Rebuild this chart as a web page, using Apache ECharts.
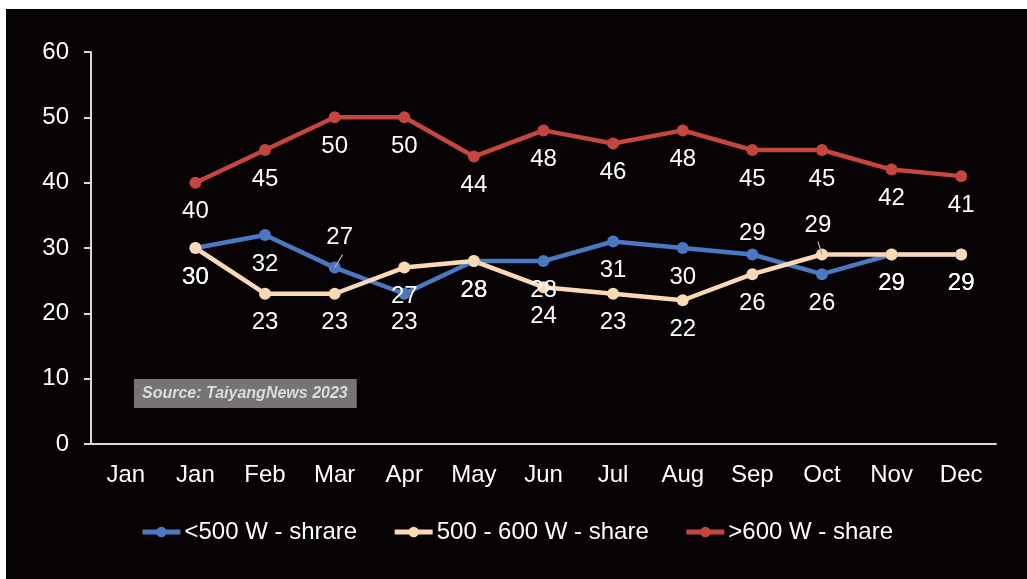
<!DOCTYPE html>
<html>
<head>
<meta charset="utf-8">
<script src="https://cdn.jsdelivr.net/npm/echarts@6/dist/echarts.min.js"></script>
<style>
  html, body { margin: 0; padding: 0; background: #ffffff; width: 1027px; height: 579px; overflow: hidden; }
  #chart { position: absolute; left: 6px; top: 9px; width: 1021px; height: 570px; background: #070203; }
</style>
</head>
<body>
<div id="chart"></div>
<script>
// Month categories (the leading "Jan" slot carries no data)
const months = ['Jan', 'Jan', 'Feb', 'Mar', 'Apr', 'May', 'Jun', 'Jul', 'Aug', 'Sep', 'Oct', 'Nov', 'Dec'];

// Module power class shares, %
const shareBelow500 = [null, 30, 32, 27, 23, 28, 28, 31, 30, 29, 26, 29, 29];
const share500to600 = [null, 30, 23, 23, 27, 28, 24, 23, 22, 26, 29, 29, 29];
const shareAbove600 = [null, 40, 45, 50, 50, 44, 48, 46, 48, 45, 45, 42, 41];

const seriesNames = ['<500 W - shrare', '500 - 600 W - share', '>600 W - share'];
const yTicks = [0, 10, 20, 30, 40, 50, 60];

const FONT = '"Liberation Sans", Arial, sans-serif';
const FS = 24;

// labels that sit above their point instead of below
// (series index -> data index -> placement; leader = short guide line to the point)
const aboveLabels = {
  0: { 3: { distance: 12, offset: [5, 0], leader: [[8, -13], [0, 0]] }, 9: { distance: 3 } },
  1: { 10: { distance: 11, offset: [-4, 0], leader: [[-4, -13], [0, 0]] } }
};

function buildData(values, seriesIdx) {
  return values.map((v, i) => {
    const over = (aboveLabels[seriesIdx] || {})[i];
    if (v == null || !over) return v;
    return {
      value: v,
      label: { position: 'top', distance: over.distance, offset: over.offset || [0, 0] }
    };
  });
}

const colors = ['#4a78c2', '#fcd9b5', '#c5463f'];
const valueSets = [shareBelow500, share500to600, shareAbove600];

const chart = echarts.init(document.getElementById('chart'), null, { renderer: 'canvas' });

const option = {
  backgroundColor: '#070203',
  animation: false,
  textStyle: { fontFamily: FONT },
  grid: { left: 85, right: 31, top: 43, bottom: 135, containLabel: false },
  legend: {
    bottom: 30,
    left: 'center',
    itemWidth: 38,
    itemHeight: 13,
    itemGap: 35,
    data: seriesNames,
    lineStyle: { width: 5 },
    textStyle: { color: '#ffffff', fontSize: FS, fontFamily: FONT, padding: [0, 0, 0, -1] }
  },
  xAxis: {
    type: 'category',
    data: months,
    boundaryGap: true,
    axisLine: { lineStyle: { color: '#d9d9d9', width: 2 } },
    axisTick: { show: false },
    axisLabel: { color: '#ffffff', fontSize: FS, margin: 19, fontFamily: FONT, interval: 0 },
    splitLine: { show: false }
  },
  yAxis: {
    type: 'value',
    min: yTicks[0],
    max: yTicks[yTicks.length - 1],
    interval: yTicks[1] - yTicks[0],
    axisLine: { show: true, lineStyle: { color: '#d9d9d9', width: 2 } },
    axisTick: { show: true, length: 7, lineStyle: { color: '#d9d9d9', width: 2 } },
    axisLabel: { color: '#ffffff', fontSize: FS, margin: 22, fontFamily: FONT },
    splitLine: { show: false }
  },
  graphic: [{
    type: 'text',
    left: 128,
    top: 370,
    z: 100,
    style: {
      text: 'Source: TaiyangNews 2023',
      fill: '#dcdcdc',
      font: 'italic bold 16px ' + FONT,
      backgroundColor: '#767474',
      padding: [7, 9, 6, 8]
    }
  }],
  series: seriesNames.map((name, k) => ({
    name: name,
    type: 'line',
    data: buildData(valueSets[k], k),
    connectNulls: false,
    symbol: 'circle',
    symbolSize: 12,
    color: colors[k],
    lineStyle: { color: colors[k], width: 4.5 },
    itemStyle: { color: colors[k] },
    label: {
      show: true,
      position: 'bottom',
      distance: 11,
      color: '#ffffff',
      fontSize: FS,
      fontFamily: FONT,
      formatter: p => Math.round(p.value)
    },
    emphasis: { disabled: true }
  }))
};

chart.setOption(option);

// short grey guide lines from the raised labels down to their points
const guides = [];
Object.keys(aboveLabels).forEach(sIdx => {
  const rows = aboveLabels[sIdx];
  Object.keys(rows).forEach(dIdx => {
    const g = rows[dIdx].leader;
    if (!g) return;
    const p = chart.convertToPixel({ seriesIndex: +sIdx }, [+dIdx, valueSets[sIdx][dIdx]]);
    guides.push({
      type: 'line',
      z: 50,
      shape: { x1: p[0] + g[0][0], y1: p[1] + g[0][1], x2: p[0] + g[1][0], y2: p[1] + g[1][1] },
      style: { stroke: '#a6a6a6', lineWidth: 1.3 }
    });
  });
});
chart.setOption({ graphic: option.graphic.concat(guides) });
</script>
</body>
</html>
